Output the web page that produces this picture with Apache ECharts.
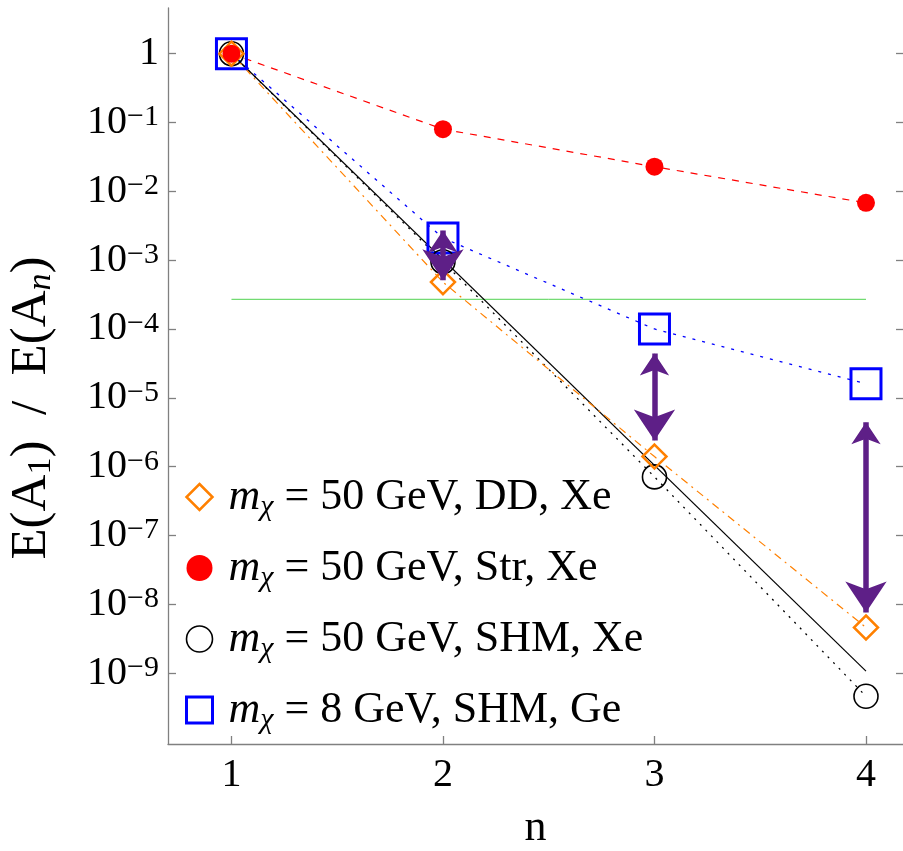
<!DOCTYPE html>
<html>
<head>
<meta charset="utf-8">
<script src="https://cdn.jsdelivr.net/npm/echarts@6/dist/echarts.min.js"></script>
<style>
  html, body { margin: 0; padding: 0; background: #fff; }
  #chart { width: 903px; height: 851px; }
</style>
</head>
<body>
<div id="chart"></div>
<script>
var nValues = [1, 2, 3, 4];
var ddXe = [1, 4.8e-4, 1.4e-6, 4.6e-9];
var strXe = [1, 0.080, 0.0228, 0.0068];
var shmXe = [1, 9.5e-4, 7.1e-7, 4.6e-10];
var shmGe = [1, 2.1e-3, 1.0e-4, 1.6e-5];
var fitN = [1, 4];
var fitXe = [1, 1.07e-9];
var limitN = [1, 4];
var limitValue = 2.7e-4;
var arrowN = [2, 3, 4];
var arrowTop = [2.7e-3, 4.4e-5, 4.4e-6];
var arrowBottom = [5.1e-4, 2.4e-6, 7.6e-9];
var xTicks = [1, 2, 3, 4];
var yTicks = [1, 1e-1, 1e-2, 1e-3, 1e-4, 1e-5, 1e-6, 1e-7, 1e-8, 1e-9];
var legendText = {
    DD: '50 GeV, DD, Xe',
    Str: '50 GeV, Str, Xe',
    SHM: '50 GeV, SHM, Xe',
    Ge: '8 GeV, SHM, Ge'
};

var FONT = 'Liberation Serif';
var chart = echarts.init(document.getElementById('chart'), null, { renderer: 'canvas' });

function pairs(xs, ys) {
    var out = [];
    for (var i = 0; i < xs.length; i++) out.push([xs[i], ys[i]]);
    return out;
}

function yLabel(v) {
    var e = Math.round(Math.log10(v));
    if (e === 0) return '{b|1}';
    return '{b|10}{s|\u2212' + (-e) + '}';
}

var arrowData = [];
for (var i = 0; i < arrowN.length; i++) {
    arrowData.push({ coords: [[arrowN[i], arrowTop[i]], [arrowN[i], arrowBottom[i]]] });
}

var axisGrey = '#808080';
var yMin = Math.pow(10, -10.03);
var yMax = Math.pow(10, 0.664);

var option = {
    animation: false,
    // keep the plot box fixed, names may sit near the edge
    grid: { left: 168, right: 0, top: 8, bottom: 107, outerBoundsMode: 'none' },
    xAxis: {
        type: 'value',
        min: 0.7,
        max: 4.175,
        name: 'n',
        nameLocation: 'middle',
        nameGap: 62,
        nameTextStyle: { fontFamily: FONT, fontSize: 44, color: '#000' },
        axisLine: { lineStyle: { color: axisGrey, width: 1.3 } },
        axisTick: { inside: true, length: 8, customValues: xTicks, lineStyle: { color: axisGrey, width: 1.3 } },
        axisLabel: { customValues: xTicks, margin: 11, fontFamily: FONT, fontSize: 40, color: '#000' },
        splitLine: { show: false }
    },
    yAxis: [{
        type: 'log',
        min: yMin,
        max: yMax,
        // wider gaps round the slash, as in the original
        name: '{t|E(A}{sub|1}{t|)\u2002/\u2002E(A}{subi|n}{t|)}',
        nameLocation: 'middle',
        nameGap: 110,
        nameTextStyle: {
            color: '#000',
            padding: [0, 64, 0, 0],
            rich: {
                t: { fontFamily: FONT, fontSize: 51, lineHeight: 52, color: '#000' },
                sub: { fontFamily: FONT, fontSize: 34, lineHeight: 30, verticalAlign: 'bottom', color: '#000' },
                subi: { fontFamily: FONT, fontSize: 34, fontStyle: 'italic', lineHeight: 30, verticalAlign: 'bottom', color: '#000' }
            }
        },
        axisLine: { lineStyle: { color: axisGrey, width: 1.3 } },
        axisTick: { inside: true, length: 8, customValues: yTicks, lineStyle: { color: axisGrey, width: 1.3 } },
        axisLabel: {
            customValues: yTicks,
            margin: 9,
            formatter: yLabel,
            rich: {
                b: { fontFamily: FONT, fontSize: 40, lineHeight: 40, color: '#000' },
                s: { fontFamily: FONT, fontSize: 30, lineHeight: 24, verticalAlign: 'top', color: '#000' }
            }
        },
        splitLine: { show: false },
        minorTick: { show: false }
    }, {
        type: 'log',
        position: 'right',
        min: yMin,
        max: yMax,
        axisLine: { show: false },
        axisTick: { inside: true, length: 7, customValues: yTicks, lineStyle: { color: axisGrey, width: 1.3 } },
        axisLabel: { show: false },
        splitLine: { show: false }
    }],
    legend: {
        orient: 'vertical',
        left: 180,
        top: 470,
        itemWidth: 26,
        itemHeight: 26,
        itemGap: 24,
        selectedMode: false,
        formatter: function (name) {
            return '{m|m}{c|\u03c7}{t| = ' + legendText[name] + '}';
        },
        textStyle: {
            rich: {
                m: { fontFamily: FONT, fontSize: 44, fontStyle: 'italic', lineHeight: 50, padding: [0, 0, 0, 11], color: '#000' },
                c: { fontFamily: FONT, fontSize: 30, fontStyle: 'italic', lineHeight: 22, verticalAlign: 'bottom', color: '#000' },
                t: { fontFamily: FONT, fontSize: 44, lineHeight: 50, color: '#000' }
            }
        },
        data: [
            { name: 'DD', icon: 'diamond', itemStyle: { color: 'rgba(0,0,0,0)', borderColor: '#ff8000', borderWidth: 2.5 } },
            { name: 'Str', icon: 'circle', itemStyle: { color: '#ff0000', borderWidth: 0 } },
            { name: 'SHM', icon: 'circle', itemStyle: { color: 'rgba(0,0,0,0)', borderColor: '#000', borderWidth: 1.6 } },
            { name: 'Ge', icon: 'rect', itemStyle: { color: 'rgba(0,0,0,0)', borderColor: '#0000ff', borderWidth: 3 } }
        ]
    },
    series: [
        {
            name: 'limit',
            type: 'line',
            data: pairs(limitN, [limitValue, limitValue]),
            symbol: 'none',
            lineStyle: { color: '#4fd24f', width: 1 },
            silent: true
        },
        {
            name: 'fit',
            type: 'line',
            data: pairs(fitN, fitXe),
            symbol: 'none',
            lineStyle: { color: '#000', width: 1.2 },
            silent: true
        },
        {
            name: 'Ge',
            type: 'line',
            data: pairs(nValues, shmGe),
            symbol: 'rect',
            symbolSize: 30,
            itemStyle: { color: 'rgba(0,0,0,0)', borderColor: '#0000ff', borderWidth: 3 },
            lineStyle: { color: '#0000ff', width: 1.3, type: [3, 7] }
        },
        {
            name: 'SHM',
            type: 'line',
            data: pairs(nValues, shmXe),
            symbol: 'circle',
            symbolSize: 24,
            itemStyle: { color: 'rgba(0,0,0,0)', borderColor: '#000', borderWidth: 1.6 },
            lineStyle: { color: '#000', width: 1.3, type: [2, 6] }
        },
        {
            name: 'DD',
            type: 'line',
            data: pairs(nValues, ddXe),
            symbol: 'diamond',
            symbolSize: 24,
            itemStyle: { color: 'rgba(0,0,0,0)', borderColor: '#ff8000', borderWidth: 2.5 },
            lineStyle: { color: '#ff8000', width: 1.2, type: [8, 5, 2, 5] }
        },
        {
            name: 'Str',
            type: 'line',
            data: pairs(nValues, strXe),
            symbol: 'circle',
            symbolSize: 18,
            itemStyle: { color: '#ff0000', borderWidth: 0 },
            lineStyle: { color: '#ff0000', width: 1.2, type: [7, 7] }
        },
        {
            name: 'arrows',
            type: 'lines',
            coordinateSystem: 'cartesian2d',
            data: arrowData,
            symbol: ['arrow', 'arrow'],
            symbolSize: [22, 31],
            lineStyle: { color: '#5e1f87', width: 5.5, opacity: 1 },
            silent: true,
            z: 5
        }
    ]
};

chart.setOption(option);
</script>
</body>
</html>
